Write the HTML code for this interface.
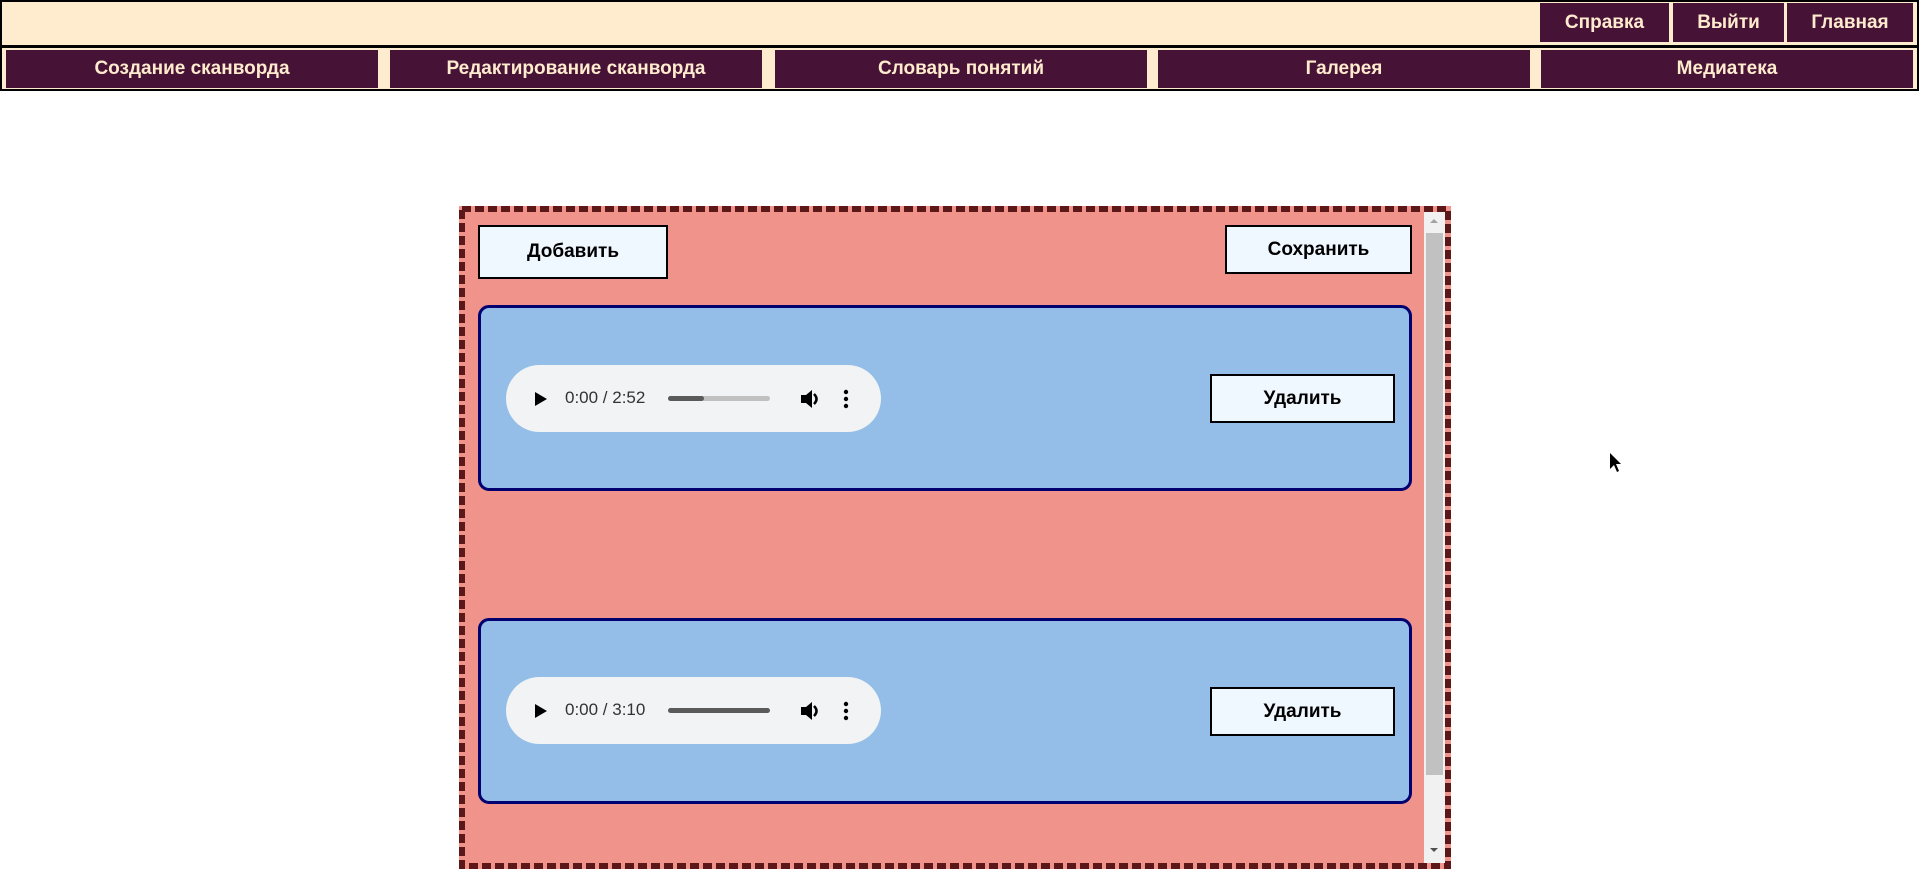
<!DOCTYPE html>
<html><head><meta charset="utf-8"><style>
*{margin:0;padding:0;box-sizing:border-box}
body{width:1919px;height:896px;background:#fff;position:relative;overflow:hidden;font-family:"Liberation Sans",sans-serif}
.a{position:absolute}
.top{left:0;top:0;width:1919px;height:91px;background:#ffebcd;border:2px solid #000}
.line{left:0;top:45px;width:1919px;height:3px;background:#000}
.nb{position:absolute;background:#461236;color:#ffebcd;font-weight:bold;font-size:19px;display:flex;align-items:center;justify-content:center}
.btn{position:absolute;background:#f0f8ff;border:2px solid #000;font-weight:bold;font-size:19px;display:flex;align-items:center;justify-content:center;color:#000}
.card{position:absolute;left:478px;width:934px;background:#94bee8;border:3px solid #000070;border-radius:11px}
.au{position:absolute;left:506px;width:375px;height:67px;background:#f1f3f4;border-radius:34px}
.t{position:absolute;left:59px;top:23px;font-size:17px;color:#333}
.bar{position:absolute;left:162px;top:31px;width:102px;height:5px;border-radius:3px;background:#c0c0c0}
</style></head><body>
<div class="a top"></div>
<div class="a line"></div>
<div class="nb" style="left:1540px;top:3px;width:129px;height:39px">Справка</div>
<div class="nb" style="left:1673px;top:3px;width:111px;height:39px">Выйти</div>
<div class="nb" style="left:1787px;top:3px;width:126px;height:39px">Главная</div>
<div class="nb" style="left:6px;top:50px;width:372px;height:38px">Создание сканворда</div>
<div class="nb" style="left:390px;top:50px;width:372px;height:38px">Редактирование сканворда</div>
<div class="nb" style="left:775px;top:50px;width:372px;height:38px">Словарь понятий</div>
<div class="nb" style="left:1158px;top:50px;width:372px;height:38px">Галерея</div>
<div class="nb" style="left:1541px;top:50px;width:372px;height:38px">Медиатека</div>

<div class="a" style="left:459px;top:206px;width:992px;height:663px;background:#f0948b"></div>
<svg class="a" style="left:459px;top:206px" width="992" height="663"><rect x="3" y="3" width="986" height="657" fill="none" stroke="#5c1818" stroke-width="6" stroke-dasharray="9 4"/></svg>
<div class="a" style="left:1424px;top:212px;width:21px;height:651px;background:#f1f1f1"></div>
<div class="a" style="left:1426px;top:233px;width:17px;height:542px;background:#c1c1c1"></div>
<div class="a" style="left:1430px;top:219px;width:0;height:0;border-left:4px solid transparent;border-right:4px solid transparent;border-bottom:4px solid #a3a3a3"></div>
<div class="a" style="left:1430px;top:848px;width:0;height:0;border-left:4px solid transparent;border-right:4px solid transparent;border-top:4px solid #505050"></div>

<div class="btn" style="left:478px;top:225px;width:190px;height:54px">Добавить</div>
<div class="btn" style="left:1225px;top:225px;width:187px;height:49px">Сохранить</div>

<div class="card" style="top:305px;height:186px"></div>
<div class="card" style="top:618px;height:186px"></div>
<div class="btn" style="left:1210px;top:374px;width:185px;height:49px">Удалить</div>
<div class="btn" style="left:1210px;top:687px;width:185px;height:49px">Удалить</div>

<div class="au" style="top:365px">
<svg class="a" style="left:28px;top:26px" width="14" height="16"><path d="M1 1L13 8L1 15Z" fill="#000"/></svg>
<div class="t">0:00 / 2:52</div>
<div class="bar"><div style="width:36px;height:5px;border-radius:3px;background:#5a5a5a"></div></div>
<svg class="a" style="left:293px;top:23px" width="22" height="22"><path d="M2 7h5l6-5v18l-6-5H2z" fill="#000"/><path d="M15 6q5 5 0 10" stroke="#000" stroke-width="2.5" fill="none"/></svg>
<svg class="a" style="left:337px;top:24px" width="6" height="20"><circle cx="3" cy="3" r="2.2"/><circle cx="3" cy="10" r="2.2"/><circle cx="3" cy="17" r="2.2"/></svg>
</div>
<div class="au" style="top:677px">
<svg class="a" style="left:28px;top:26px" width="14" height="16"><path d="M1 1L13 8L1 15Z" fill="#000"/></svg>
<div class="t">0:00 / 3:10</div>
<div class="bar" style="background:#5a5a5a"></div>
<svg class="a" style="left:293px;top:23px" width="22" height="22"><path d="M2 7h5l6-5v18l-6-5H2z" fill="#000"/><path d="M15 6q5 5 0 10" stroke="#000" stroke-width="2.5" fill="none"/></svg>
<svg class="a" style="left:337px;top:24px" width="6" height="20"><circle cx="3" cy="3" r="2.2"/><circle cx="3" cy="10" r="2.2"/><circle cx="3" cy="17" r="2.2"/></svg>
</div>

<svg class="a" style="left:1610px;top:453px" width="14" height="22"><path d="M0 0L0 16L4 12L7 19L9 18L6 11L11 11Z" fill="#000"/></svg>
</body></html>
